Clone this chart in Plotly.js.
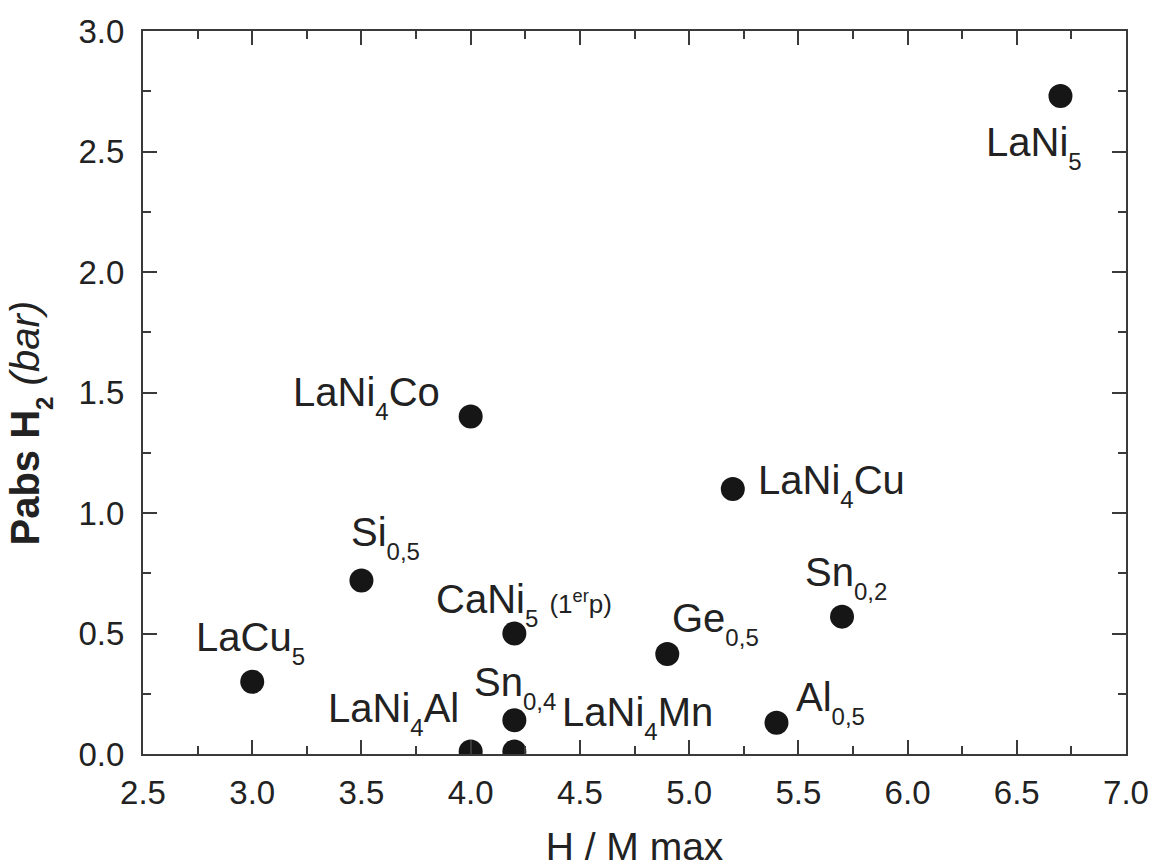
<!DOCTYPE html>
<html>
<head>
<meta charset="utf-8">
<script src="https://cdn.plot.ly/plotly-3.0.1.min.js"></script>
<style>html,body{margin:0;padding:0;background:#fff;}#chart{width:1154px;height:868px;}</style>
</head>
<body>
<div id="chart"></div>
<script>
// Data
const formulaBase = ["LaNi", "LaNi", "LaNi", "Si", "CaNi", "Ge", "Sn", "LaCu", "Sn", "LaNi", "LaNi", "Al"];
const formulaSub  = ["5", "4", "4", "0,5", "5", "0,5", "0,2", "5", "0,4", "4", "4", "0,5"];
const formulaTail = ["", "Co", "Cu", "", " <span style=\"font-size:26px\">(1<sup>er</sup>p)</span>", "", "", "", "", "Mn", "Al", ""];
const hmMax = [6.7, 4.0, 5.2, 3.5, 4.2, 4.9, 5.7, 3.0, 4.2, 4.2, 4.0, 5.4];
const pAbs  = [2.73, 1.40, 1.10, 0.72, 0.50, 0.415, 0.57, 0.30, 0.14, 0.01, 0.01, 0.13];

// Label placement offsets (pixels relative to each point)
const labelShiftX = [-76, -180, 23, -12, -80, 3, -39, -58, -42, 46, -145, 18];
const labelShiftY = [-22, 49, 33, 72, 59, 60, 69, 69, 62, 64, 68, 50];

const FONT = "Liberation Sans, Arial, Helvetica, sans-serif";
const INK = "#222";
const AXIS = "#3a3a3a";

function lowSub(s) { return "<sub><sub><span style=\"font-size:24px\">" + s + "</span></sub></sub>"; }

const trace = {
  type: "scatter", mode: "markers",
  x: hmMax, y: pAbs,
  marker: {size: 24, color: "#161616"},
  cliponaxis: true, hoverinfo: "skip"
};

const annotations = formulaBase.map((b, i) => ({
  x: hmMax[i], y: pAbs[i], xref: "x", yref: "y",
  text: b + lowSub(formulaSub[i]) + formulaTail[i], showarrow: false,
  xanchor: "left", yanchor: "top",
  xshift: labelShiftX[i], yshift: labelShiftY[i],
  font: {family: FONT, size: 40, color: INK}
}));

annotations.push({
  xref: "paper", yref: "paper", x: 0, y: 0.5,
  xanchor: "center", yanchor: "middle",
  xshift: -113, yshift: -31,
  textangle: -90, showarrow: false,
  text: "<b>Pabs H<sub><sub><span style=\"font-size:24px\">2</span></sub></sub></b> <i>(bar)</i>",
  font: {family: FONT, size: 40, color: INK}
});

const axisCommon = {
  showline: true, linecolor: AXIS, linewidth: 2, mirror: "ticks",
  ticks: "inside", ticklen: 14, tickwidth: 2, tickcolor: AXIS,
  showgrid: false, zeroline: false,
  tickfont: {family: FONT, size: 33, color: INK},
  tickformat: ".1f",
  minor: {ticks: "inside", ticklen: 8, tickwidth: 2, tickcolor: AXIS, showgrid: false}
};

const layout = {
  width: 1154, height: 868,
  margin: {l: 143, r: 28, t: 31, b: 114},
  paper_bgcolor: "#fff", plot_bgcolor: "#fff",
  showlegend: false,
  xaxis: Object.assign({}, axisCommon, {
    range: [2.5, 7.0], dtick: 0.5, tick0: 2.5,
    minor: Object.assign({}, axisCommon.minor, {dtick: 0.25}),
    ticklabelstandoff: 8,
    title: {text: "H / M max", font: {family: FONT, size: 39, color: INK}, standoff: 24}
  }),
  yaxis: Object.assign({}, axisCommon, {
    range: [0, 3.0], dtick: 0.5, tick0: 0,
    minor: Object.assign({}, axisCommon.minor, {dtick: 0.25}),
    ticklabelstandoff: 10
  }),
  annotations: annotations
};

Plotly.newPlot("chart", [trace], layout, {staticPlot: true, displayModeBar: false});
</script>
</body>
</html>
